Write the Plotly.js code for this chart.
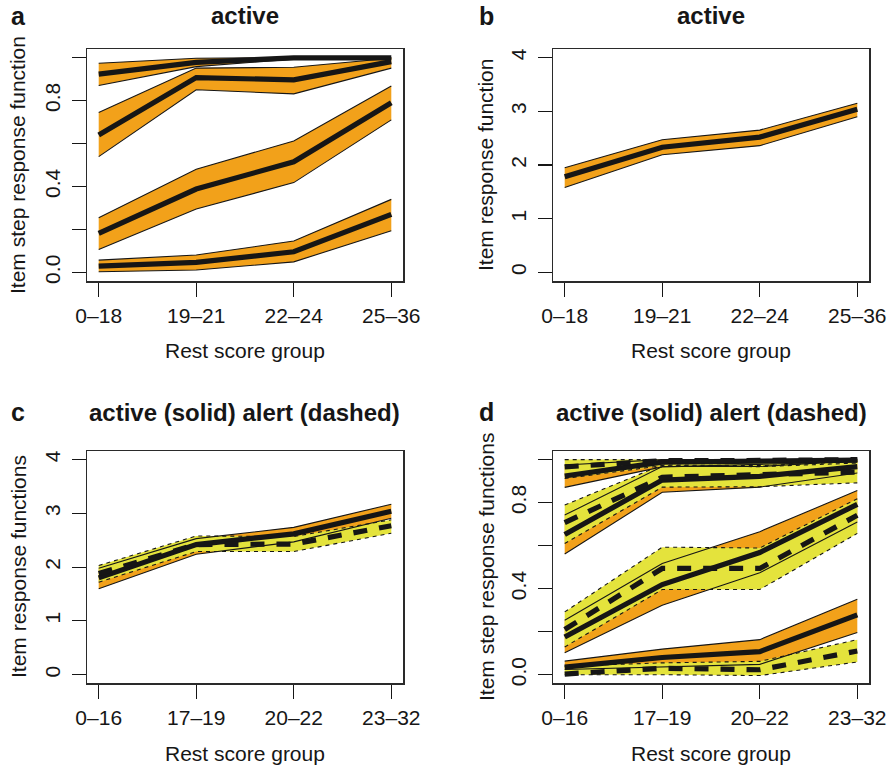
<!DOCTYPE html>
<html>
<head>
<meta charset="utf-8">
<script src="https://cdn.plot.ly/plotly-3.0.1.min.js"></script>
<style>
  html, body { margin: 0; padding: 0; background: #fff; }
  #chart { width: 894px; height: 767px; }
</style>
</head>
<body>
<div id="chart"></div>
<script>
// Rest score groups (x axis categories)
const groupsAB = ['0\u201318', '19\u201321', '22\u201324', '25\u201336'];
const groupsCD = ['0\u201316', '17\u201319', '20\u201322', '23\u201332'];

// Panel a: item step response functions, "active" (estimate, lower, upper)
const aStep1 = [0.923, 0.978, 0.999, 0.999];
const aStep1Lo = [0.870, 0.958, 0.993, 0.992];
const aStep1Hi = [0.974, 0.997, 1.000, 1.000];
const aStep2 = [0.640, 0.907, 0.896, 0.981];
const aStep2Lo = [0.539, 0.850, 0.831, 0.951];
const aStep2Hi = [0.744, 0.951, 0.955, 0.997];
const aStep3 = [0.182, 0.388, 0.515, 0.790];
const aStep3Lo = [0.107, 0.295, 0.418, 0.710];
const aStep3Hi = [0.254, 0.480, 0.612, 0.868];
const aStep4 = [0.029, 0.047, 0.096, 0.270];
const aStep4Lo = [0.003, 0.011, 0.049, 0.194];
const aStep4Hi = [0.057, 0.081, 0.146, 0.340];

// Panel b: item response function, "active"
const bIrf = [1.78, 2.33, 2.52, 3.04];
const bIrfLo = [1.58, 2.19, 2.36, 2.90];
const bIrfHi = [1.95, 2.47, 2.65, 3.15];

// Panel c: item response functions, active (solid) vs alert (dashed)
const cActive = [1.80, 2.42, 2.62, 3.04];
const cActiveLo = [1.60, 2.24, 2.47, 2.91];
const cActiveHi = [1.98, 2.53, 2.74, 3.17];
const cAlert = [1.88, 2.42, 2.43, 2.77];
const cAlertLo = [1.72, 2.29, 2.29, 2.63];
const cAlertHi = [2.03, 2.58, 2.57, 2.88];

// Panel d: item step response functions, active (solid) vs alert (dashed)
const dActive1 = [0.924, 0.988, 0.993, 0.998];
const dActive1Lo = [0.871, 0.966, 0.978, 0.990];
const dActive1Hi = [0.975, 1.000, 1.000, 1.000];
const dActive2 = [0.652, 0.905, 0.922, 0.967];
const dActive2Lo = [0.561, 0.848, 0.872, 0.938];
const dActive2Hi = [0.742, 0.968, 0.968, 0.995];
const dActive3 = [0.175, 0.419, 0.568, 0.792];
const dActive3Lo = [0.102, 0.323, 0.474, 0.710];
const dActive3Hi = [0.253, 0.517, 0.665, 0.856];
const dActive4 = [0.035, 0.080, 0.107, 0.278];
const dActive4Lo = [0.024, 0.036, 0.048, 0.196];
const dActive4Hi = [0.063, 0.119, 0.163, 0.351];

const dAlert1 = [0.966, 0.995, 0.996, 1.000];
const dAlert1Lo = [0.912, 0.972, 0.967, 0.984];
const dAlert1Hi = [1.000, 1.000, 1.000, 1.000];
const dAlert2 = [0.707, 0.918, 0.930, 0.942];
const dAlert2Lo = [0.610, 0.872, 0.874, 0.892];
const dAlert2Hi = [0.789, 0.975, 0.972, 0.990];
const dAlert3 = [0.210, 0.494, 0.494, 0.741];
const dAlert3Lo = [0.129, 0.396, 0.396, 0.657];
const dAlert3Hi = [0.292, 0.593, 0.589, 0.818];
const dAlert4 = [0.003, 0.030, 0.023, 0.110];
const dAlert4Lo = [0.000, 0.000, -0.004, 0.059];
const dAlert4Hi = [0.040, 0.055, 0.062, 0.163];

// Tick values / labels for the y axes
const stepTicks = [0, 0.2, 0.4, 0.6, 0.8, 1.0];
const stepTickText = ['0.0', '', '0.4', '', '0.8', ''];
const irfTicks = [0, 1, 2, 3, 4];
const irfTickText = ['0', '1', '2', '3', '4'];

const xPos = [1, 2, 3, 4];

const ORANGE = '#F2A11A';
const YELLOW = '#E4E33C';
const INK = '#161616';
const FONT = 'Liberation Sans, Arial, Helvetica, sans-serif';

const W = 894, H = 767;

// Confidence band: filled polygon between lower and upper bounds (no outline)
function band(xa, ya, lo, hi, color) {
  return {
    type: 'scatter', mode: 'lines', xaxis: xa, yaxis: ya,
    x: xPos.concat(xPos.slice().reverse()),
    y: hi.concat(lo.slice().reverse()),
    fill: 'toself', fillcolor: color,
    line: { width: 0, color: color },
    hoverinfo: 'skip', showlegend: false
  };
}

function curve(xa, ya, y, width, dash) {
  return {
    type: 'scatter', mode: 'lines', xaxis: xa, yaxis: ya,
    x: xPos, y: y,
    line: { color: INK, width: width, dash: dash || 'solid' },
    showlegend: false
  };
}

const THIN = 1.1, THICK = 5.2;
const THIN_DASH = '4px,4px', THICK_DASH = '14px,12px';

const traces = [];

// ---- panel a ----
[[aStep1Lo, aStep1Hi], [aStep2Lo, aStep2Hi], [aStep3Lo, aStep3Hi], [aStep4Lo, aStep4Hi]]
  .forEach(([lo, hi]) => traces.push(band('x', 'y', lo, hi, ORANGE)));
[[aStep1Lo, aStep1Hi], [aStep2Lo, aStep2Hi], [aStep3Lo, aStep3Hi], [aStep4Lo, aStep4Hi]]
  .forEach(([lo, hi]) => {
    traces.push(curve('x', 'y', lo, THIN));
    traces.push(curve('x', 'y', hi, THIN));
  });
[aStep1, aStep2, aStep3, aStep4].forEach(y => traces.push(curve('x', 'y', y, THICK)));

// ---- panel b ----
traces.push(band('x2', 'y2', bIrfLo, bIrfHi, ORANGE));
traces.push(curve('x2', 'y2', bIrfLo, THIN));
traces.push(curve('x2', 'y2', bIrfHi, THIN));
traces.push(curve('x2', 'y2', bIrf, THICK));

// ---- panel c ----
traces.push(band('x3', 'y3', cActiveLo, cActiveHi, ORANGE));
traces.push(band('x3', 'y3', cAlertLo, cAlertHi, YELLOW));
traces.push(curve('x3', 'y3', cActiveLo, THIN));
traces.push(curve('x3', 'y3', cActiveHi, THIN));
traces.push(curve('x3', 'y3', cAlertLo, THIN, THIN_DASH));
traces.push(curve('x3', 'y3', cAlertHi, THIN, THIN_DASH));
traces.push(curve('x3', 'y3', cActive, THICK));
traces.push(curve('x3', 'y3', cAlert, THICK, THICK_DASH));

// ---- panel d ----
const dActiveSets = [[dActive1, dActive1Lo, dActive1Hi], [dActive2, dActive2Lo, dActive2Hi],
                     [dActive3, dActive3Lo, dActive3Hi], [dActive4, dActive4Lo, dActive4Hi]];
const dAlertSets = [[dAlert1, dAlert1Lo, dAlert1Hi], [dAlert2, dAlert2Lo, dAlert2Hi],
                    [dAlert3, dAlert3Lo, dAlert3Hi], [dAlert4, dAlert4Lo, dAlert4Hi]];
dActiveSets.forEach(([c, lo, hi]) => traces.push(band('x4', 'y4', lo, hi, ORANGE)));
dAlertSets.forEach(([c, lo, hi]) => traces.push(band('x4', 'y4', lo, hi, YELLOW)));
dActiveSets.forEach(([c, lo, hi]) => {
  traces.push(curve('x4', 'y4', lo, THIN));
  traces.push(curve('x4', 'y4', hi, THIN));
});
dAlertSets.forEach(([c, lo, hi]) => {
  traces.push(curve('x4', 'y4', lo, THIN, THIN_DASH));
  traces.push(curve('x4', 'y4', hi, THIN, THIN_DASH));
});
dActiveSets.forEach(([c]) => traces.push(curve('x4', 'y4', c, THICK)));
dAlertSets.forEach(([c]) => traces.push(curve('x4', 'y4', c, THICK, THICK_DASH)));

// ---- axes ----
const colL = [87 / W, 403 / W], colR = [553 / W, 869 / W];
const rowT = [1 - 281 / H, 1 - 49 / H], rowB = [1 - 683.3 / H, 1 - 451 / H];

function xAxis(domain, anchor, labels) {
  return {
    domain: domain, anchor: anchor, range: [0.88, 4.12],
    tickmode: 'array', tickvals: xPos, ticktext: labels,
    ticks: 'outside', ticklen: 14, tickwidth: 1.1, tickcolor: INK,
    ticklabelstandoff: 1,
    showline: true, mirror: true, linecolor: '#2a2a2a', linewidth: 1.5,
    showgrid: false, zeroline: false, fixedrange: true,
    tickfont: { family: FONT, size: 21, color: INK }
  };
}
function yAxis(domain, anchor, range, vals, text) {
  return {
    domain: domain, anchor: anchor, range: range,
    tickmode: 'array', tickvals: vals, ticktext: text, tickangle: -90,
    ticks: 'outside', ticklen: 14, tickwidth: 1.1, tickcolor: INK,
    ticklabelstandoff: 3,
    showline: true, mirror: true, linecolor: '#2a2a2a', linewidth: 1.5,
    showgrid: false, zeroline: false, fixedrange: true,
    tickfont: { family: FONT, size: 21, color: INK }
  };
}

function txt(x, y, text, size, bold, angle) {
  return {
    xref: 'paper', yref: 'paper', x: x / W, y: 1 - y / H,
    xanchor: 'center', yanchor: 'middle', showarrow: false,
    text: bold ? '<b>' + text + '</b>' : text, textangle: angle || 0,
    font: { family: FONT, size: size, color: INK }
  };
}

const layout = {
  width: W, height: H,
  margin: { l: 0, r: 0, t: 0, b: 0 },
  paper_bgcolor: '#fff', plot_bgcolor: '#fff',
  showlegend: false,
  xaxis: xAxis(colL, 'y', groupsAB),
  yaxis: yAxis(rowT, 'x', [-0.04, 1.04], stepTicks, stepTickText),
  xaxis2: xAxis(colR, 'y2', groupsAB),
  yaxis2: yAxis(rowT, 'x2', [-0.16, 4.16], irfTicks, irfTickText),
  xaxis3: xAxis(colL, 'y3', groupsCD),
  yaxis3: yAxis(rowB, 'x3', [-0.16, 4.16], irfTicks, irfTickText),
  xaxis4: xAxis(colR, 'y4', groupsCD),
  yaxis4: yAxis(rowB, 'x4', [-0.04, 1.04], stepTicks, stepTickText),
  annotations: [
    txt(18, 16, 'a', 25, true), txt(486, 16, 'b', 25, true),
    txt(18, 412, 'c', 25, true), txt(486, 412, 'd', 25, true),
    txt(245, 16, 'active', 24, true), txt(711, 16, 'active', 24, true),
    txt(245, 412, 'active (solid) alert (dashed)', 24, true),
    txt(711, 412, 'active (solid) alert (dashed)', 24, true),
    txt(245, 350, 'Rest score group', 21), txt(711, 350, 'Rest score group', 21),
    txt(245, 753, 'Rest score group', 21), txt(711, 753, 'Rest score group', 21),
    txt(18, 165, 'Item step response function', 21, false, -90),
    txt(486, 165, 'Item response function', 21, false, -90),
    txt(18, 567, 'Item response functions', 21, false, -90),
    txt(486, 567, 'Item step response functions', 21, false, -90)
  ]
};

Plotly.newPlot('chart', traces, layout, { staticPlot: true, displayModeBar: false });
</script>
</body>
</html>
